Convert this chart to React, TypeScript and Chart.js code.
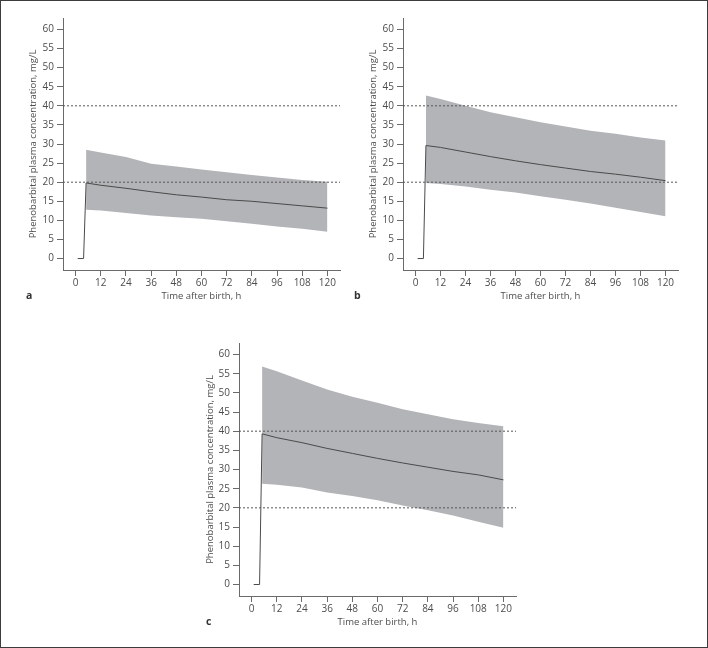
import React, { useEffect, useRef } from "react";
import { Chart, registerables } from "chart.js";

Chart.register(...registerables);

const Y_TICKS = [0, 5, 10, 15, 20, 25, 30, 35, 40, 45, 50, 55, 60];
const X_TICKS = [0, 12, 24, 36, 48, 60, 72, 84, 96, 108, 120];
const REF_LEVELS = [20, 40];

const BAND_T = [5, 12, 24, 36, 48, 60, 72, 84, 96, 108, 120];
const MEDIAN_T = [1, 3.8, 5, 12, 24, 36, 48, 60, 72, 84, 96, 108, 120];

const UPPER_A = [28.5, 27.8, 26.6, 24.8, 24.1, 23.3, 22.6, 21.9, 21.2, 20.6, 20.1];
const LOWER_A = [12.8, 12.6, 11.9, 11.3, 10.8, 10.4, 9.8, 9.1, 8.4, 7.8, 7.0];
const MEDIAN_A = [0, 0, 19.8, 19.2, 18.4, 17.5, 16.7, 16.1, 15.4, 15.0, 14.4, 13.8, 13.2];

const UPPER_B = [42.7, 41.8, 40.0, 38.3, 37.0, 35.7, 34.6, 33.5, 32.7, 31.7, 30.9];
const LOWER_B = [19.8, 19.5, 18.9, 18.0, 17.3, 16.3, 15.4, 14.4, 13.3, 12.2, 11.1];
const MEDIAN_B = [0, 0, 29.6, 29.1, 27.9, 26.7, 25.6, 24.6, 23.7, 22.8, 22.1, 21.3, 20.4];

const UPPER_C = [56.9, 55.6, 53.2, 50.9, 49.0, 47.4, 45.7, 44.4, 43.1, 42.1, 41.3];
const LOWER_C = [26.3, 26.0, 25.3, 24.0, 23.1, 22.0, 20.6, 19.4, 18.0, 16.4, 14.8];
const MEDIAN_C = [0, 0, 39.3, 38.3, 37.0, 35.5, 34.2, 32.9, 31.7, 30.6, 29.5, 28.6, 27.3];

const X_TITLE = "Time after birth, h";
const Y_TITLE = "Phenobarbital plasma concentration, mg/L";

const X_MIN = -6;
const X_MAX = 126;
const Y_MIN = -3;
const Y_MAX = 63;

const FONT = "'Open Sans', 'DejaVu Sans', sans-serif";
const TEXT = "#4d4d4d";
const AXIS = "#6a6a6a";
const BAND = "#b3b4b8";
const LINE = "#4a4a4a";

type PanelProps = {
  left: number;
  top: number;
  w: number;
  h: number;
  ca: { l: number; r: number; t: number; b: number };
  yTitleX: number;
  xTitleY: number;
  letter: string;
  letterX: number;
  letterY: number;
  upper: number[];
  lower: number[];
  median: number[];
};

function Panel(p: PanelProps) {
  const ref = useRef<HTMLCanvasElement | null>(null);
  useEffect(() => {
    if (!ref.current) return;
    const fs = 9.5;
    const tfs = 10;
    const lh = fs * 1.2;
    const toXY = (ts: number[], vs: number[]) => ts.map((t, i) => ({ x: t, y: vs[i] }));
    const refSets = REF_LEVELS.map((lv) => ({
      data: [
        { x: X_MIN, y: lv },
        { x: X_MAX, y: lv },
      ],
      borderColor: "#555",
      borderWidth: 1,
      borderDash: [2, 2],
      pointRadius: 0,
      fill: false,
      order: 0,
    }));
    const letterPlugin = {
      id: "letter",
      afterDraw(chart: any) {
        const ctx = chart.ctx;
        ctx.save();
        ctx.font = `bold 10.5px ${FONT}`;
        ctx.fillStyle = "#333";
        ctx.textAlign = "left";
        ctx.textBaseline = "middle";
        ctx.fillText(p.letter, p.letterX, p.letterY);
        ctx.restore();
      },
    };
    const chart = new Chart(ref.current, {
      type: "line",
      data: {
        datasets: [
          {
            data: toXY(BAND_T, p.upper),
            borderWidth: 0,
            borderColor: BAND,
            backgroundColor: BAND,
            pointRadius: 0,
            fill: "+1",
            order: 2,
          },
          {
            data: toXY(BAND_T, p.lower),
            borderWidth: 0,
            borderColor: BAND,
            backgroundColor: BAND,
            pointRadius: 0,
            fill: false,
            order: 2,
          },
          {
            data: toXY(MEDIAN_T, p.median),
            borderColor: LINE,
            borderWidth: 1,
            pointRadius: 0,
            fill: false,
            order: 1,
          },
          ...refSets,
        ] as any,
      },
      options: {
        animation: false,
        responsive: false,
        devicePixelRatio: 1,
        layout: {
          padding: { left: 0, top: p.ca.t, right: p.w - p.ca.r, bottom: 0 },
        },
        plugins: {
          legend: { display: false },
          tooltip: { enabled: false },
        },
        scales: {
          x: {
            type: "linear",
            min: X_MIN,
            max: X_MAX,
            afterFit(scale: any) {
              scale.height = p.h - p.ca.b;
            },
            afterBuildTicks(scale: any) {
              scale.ticks = X_TICKS.map((v) => ({ value: v }));
            },
            grid: {
              drawOnChartArea: false,
              drawTicks: true,
              tickLength: 6,
              color: AXIS,
            },
            border: { display: true, color: AXIS, width: 1 },
            ticks: {
              font: { family: FONT, size: tfs },
              color: TEXT,
              padding: 1,
              maxRotation: 0,
              autoSkip: false,
            },
            title: {
              display: true,
              text: X_TITLE,
              font: { family: FONT, size: fs },
              color: TEXT,
              padding: { top: 0, bottom: p.h - p.xTitleY - lh / 2 },
            },
          },
          y: {
            type: "linear",
            min: Y_MIN,
            max: Y_MAX,
            afterFit(scale: any) {
              scale.width = p.ca.l;
            },
            afterBuildTicks(scale: any) {
              scale.ticks = Y_TICKS.map((v) => ({ value: v }));
            },
            grid: {
              drawOnChartArea: false,
              drawTicks: true,
              tickLength: 6,
              color: AXIS,
            },
            border: { display: true, color: AXIS, width: 1 },
            ticks: {
              font: { family: FONT, size: tfs },
              color: TEXT,
              padding: 3,
              autoSkip: false,
            },
            title: {
              display: true,
              text: Y_TITLE,
              font: { family: FONT, size: fs },
              color: TEXT,
              padding: { top: p.yTitleX - lh / 2, bottom: 0 },
            },
          },
        },
      } as any,
      plugins: [letterPlugin],
    });
    return () => chart.destroy();
  }, []);
  return (
    <canvas
      ref={ref}
      width={p.w}
      height={p.h}
      style={{ position: "absolute", left: p.left, top: p.top, width: p.w, height: p.h }}
    />
  );
}

export default function App() {
  return (
    <div
      style={{
        position: "absolute",
        left: 0,
        top: 0,
        width: 708,
        height: 648,
        background: "#fff",
        overflow: "hidden",
      }}
    >
      <Panel
        left={0}
        top={0}
        w={350}
        h={318}
        ca={{ l: 63, r: 340, t: 18, b: 270 }}
        yTitleX={33}
        xTitleY={296}
        letter="a"
        letterX={26}
        letterY={296}
        upper={UPPER_A}
        lower={LOWER_A}
        median={MEDIAN_A}
      />
      <Panel
        left={350}
        top={0}
        w={350}
        h={318}
        ca={{ l: 53, r: 328, t: 18, b: 270 }}
        yTitleX={23}
        xTitleY={296}
        letter="b"
        letterX={4}
        letterY={296}
        upper={UPPER_B}
        lower={LOWER_B}
        median={MEDIAN_B}
      />
      <Panel
        left={190}
        top={330}
        w={350}
        h={318}
        ca={{ l: 49, r: 326, t: 13, b: 266 }}
        yTitleX={20}
        xTitleY={292}
        letter="c"
        letterX={16}
        letterY={292}
        upper={UPPER_C}
        lower={LOWER_C}
        median={MEDIAN_C}
      />
      <div
        style={{
          position: "absolute",
          left: 0,
          top: 0,
          width: 708,
          height: 648,
          boxSizing: "border-box",
          border: "1px solid #3c3c3c",
          pointerEvents: "none",
        }}
      />
    </div>
  );
}
